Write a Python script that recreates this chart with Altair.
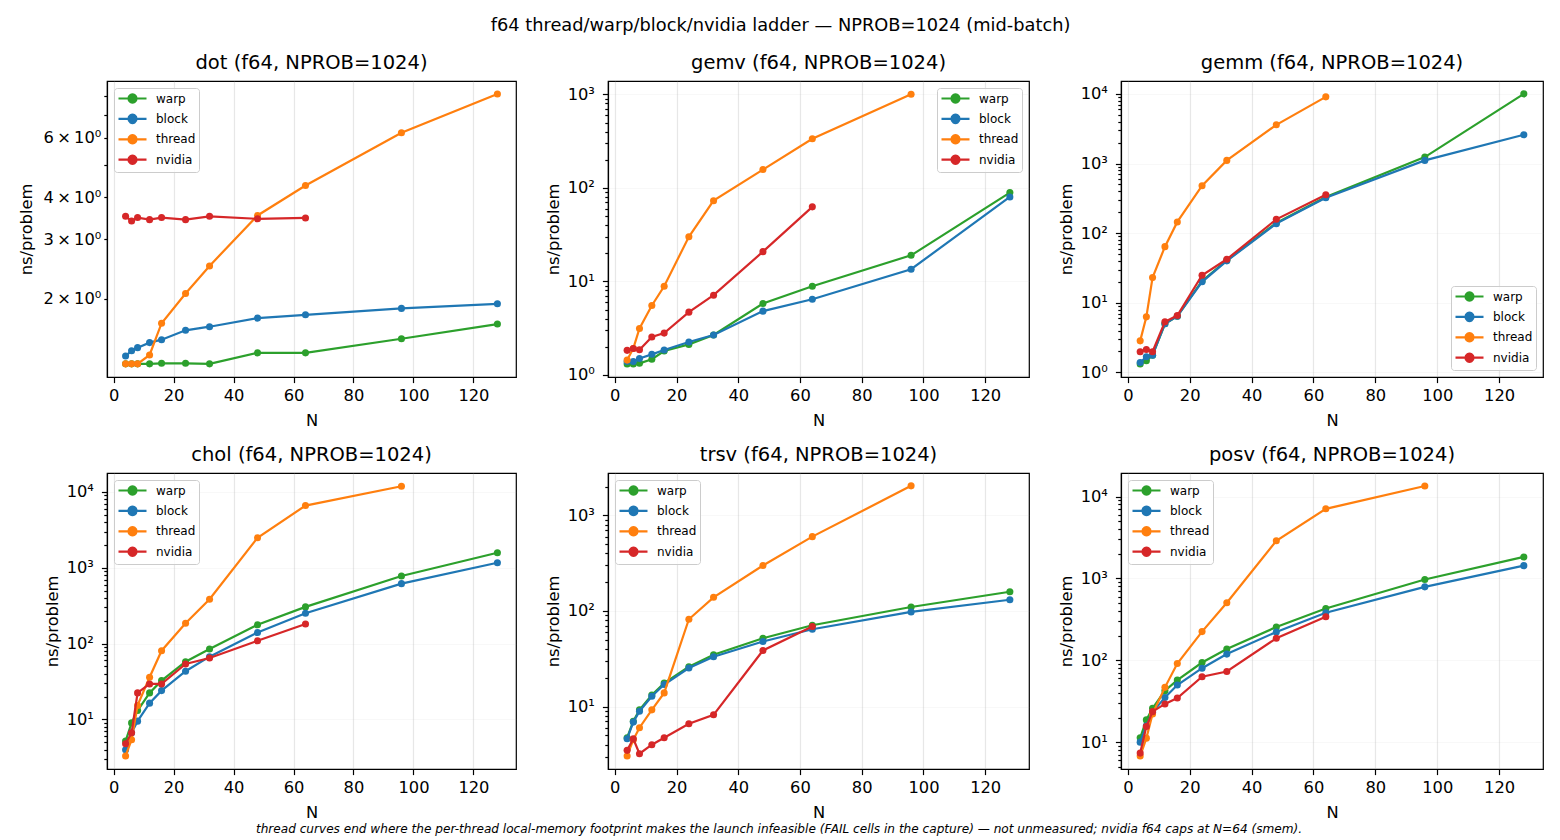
import altair as alt
import pandas as pd

# ---------------- data ----------------
N_ALL = [4, 6, 8, 12, 16, 24, 32, 48, 64, 96, 128]
SERIES = ["warp", "block", "thread", "nvidia"]
COLORS = ["#2ca02c", "#1f77b4", "#ff7f0e", "#d62728"]

dot_warp = [1.28, 1.28, 1.28, 1.28, 1.285, 1.285, 1.28, 1.38, 1.38, 1.52, 1.68]
dot_block = [1.35, 1.40, 1.43, 1.48, 1.51, 1.61, 1.65, 1.75, 1.79, 1.87, 1.93]
dot_thread = [1.28, 1.28, 1.28, 1.36, 1.69, 2.07, 2.50, 3.53, 4.33, 6.21, 8.10]
dot_nvidia = [3.51, 3.40, 3.48, 3.43, 3.48, 3.43, 3.51, 3.45, 3.47]

gemv_warp = [1.31, 1.31, 1.33, 1.47, 1.80, 2.12, 2.67, 5.80, 8.88, 19.0, 89.0]
gemv_block = [1.39, 1.39, 1.50, 1.66, 1.85, 2.25, 2.67, 4.81, 6.45, 13.5, 80.0]
gemv_thread = [1.44, 1.92, 3.14, 5.53, 8.88, 30.0, 73.0, 157.0, 335.0, 1005.0]
gemv_nvidia = [1.83, 1.92, 1.86, 2.54, 2.80, 4.69, 7.12, 20.8, 62.7]

gemm_warp = [1.32, 1.47, 1.77, 4.99, 6.42, 20.6, 40.8, 140.0, 330.0, 1236.0, 10000.0]
gemm_block = [1.39, 1.68, 1.77, 4.99, 6.40, 20.0, 40.0, 137.0, 323.0, 1108.0, 2583.0]
gemm_thread = [2.84, 6.28, 23.0, 64.0, 145.0, 480.0, 1108.0, 3594.0, 9060.0]
gemm_nvidia = [1.98, 2.14, 1.98, 5.33, 6.56, 24.9, 42.2, 158.0, 356.0]

chol_warp = [5.19, 9.0, 13.1, 22.4, 32.5, 57.8, 84.8, 177.0, 305.0, 780.0, 1580.0]
chol_block = [3.99, 6.68, 9.5, 16.4, 24.0, 43.2, 67.3, 140.0, 252.0, 618.0, 1167.0]
chol_thread = [3.30, 5.41, 15.3, 36.0, 80.7, 186.0, 385.0, 2490.0, 6620.0, 11900.0]
chol_nvidia = [4.79, 6.68, 22.4, 29.4, 29.4, 53.9, 64.6, 109.0, 181.0]

trsv_warp = [4.72, 7.03, 9.23, 13.2, 17.6, 26.1, 34.8, 51.9, 70.9, 110.0, 159.0]
trsv_block = [4.61, 6.87, 8.94, 12.8, 17.0, 25.3, 33.2, 48.0, 64.4, 97.7, 131.0]
trsv_thread = [3.04, 4.50, 6.0, 9.23, 13.9, 81.9, 139.0, 299.0, 600.0, 2040.0]
trsv_nvidia = [3.48, 4.60, 3.21, 3.99, 4.72, 6.60, 8.19, 38.6, 68.7]

posv_warp = [11.3, 18.7, 25.9, 42.5, 57.3, 94.0, 137.0, 255.0, 430.0, 969.0, 1830.0]
posv_block = [10.0, 15.9, 23.2, 35.2, 49.8, 80.1, 119.0, 222.0, 381.0, 789.0, 1433.0]
posv_thread = [6.76, 11.2, 22.1, 46.7, 91.4, 224.0, 504.0, 2884.0, 7080.0, 13460.0]
posv_nvidia = [7.35, 15.5, 23.6, 29.3, 34.6, 63.0, 73.0, 186.0, 340.0]

X_TICKS = [0, 20, 40, 60, 80, 100, 120]
DOT_Y_TICKS = [2, 3, 4, 5, 6, 7, 8]
DOT_Y_LABELED = [2, 3, 4, 6]
LOG_MULTS = [1, 2, 3, 4, 5, 6, 7, 8, 9]
LOG_DECADES = [1, 10, 100, 1000, 10000]
LOG_TICKS = [m * d for d in LOG_DECADES for m in LOG_MULTS]

MAIN_TITLE = "f64 thread/warp/block/nvidia ladder \u2014 NPROB=1024 (mid-batch)"
FOOTER = ("thread curves end where the per-thread local-memory footprint makes the launch "
          "infeasible (FAIL cells in the capture) \u2014 not unmeasured; nvidia f64 caps at N=64 (smem).")

PANELS = [
    ("dot", [dot_warp, dot_block, dot_thread, dot_nvidia], [1.17, 8.85], "top-left", "dot"),
    ("gemv", [gemv_warp, gemv_block, gemv_thread, gemv_nvidia], [0.95, 1390], "top-right", "log"),
    ("gemm", [gemm_warp, gemm_block, gemm_thread, gemm_nvidia], [0.86, 15300], "bottom-right", "log"),
    ("chol", [chol_warp, chol_block, chol_thread, chol_nvidia], [2.22, 17800], "top-left", "log"),
    ("trsv", [trsv_warp, trsv_block, trsv_thread, trsv_nvidia], [2.22, 2780], "top-left", "log"),
    ("posv", [posv_warp, posv_block, posv_thread, posv_nvidia], [4.7, 19400], "top-left", "log"),
]
WIDTHS = [409, 421, 422]
HEIGHT = 296
FOOTER_PANEL = 4          # footer text hangs below the bottom-middle panel
FOOTER_X = 171
FOOTER_Y = 356

FONT = "DejaVu Sans"
DECADE_TEST = "abs(log(datum.value)/LN10 - round(log(datum.value)/LN10)) < 0.001"
SUP = "['\u2070','\u00b9','\u00b2','\u00b3','\u2074','\u2075']"
LEGEND_PATH = ("M-1,0L3.667,0M2,0A0.667,0.667,0,1,1,0.667,0"
               "A0.667,0.667,0,1,1,2,0Z")


def make_panel(idx, name, series_vals, ydom, legend_orient, kind):
    rows = []
    for s, vals in zip(SERIES, series_vals):
        for n, v in zip(N_ALL, vals):
            rows.append({"N": n, "v": v, "series": s})
    df = pd.DataFrame(rows)

    x = alt.X("N:Q", title="N",
              scale=alt.Scale(domain=[-2.2, 134.2], nice=False, zero=False),
              axis=alt.Axis(values=X_TICKS, grid=True, labelFlush=False, labelPadding=5,
                            titlePadding=9))
    if kind == "dot":
        yaxis = alt.Axis(values=DOT_Y_TICKS, grid=False, tickSize=3.2, labelOverlap=False,
                         tickCount=100, labelPadding=3, titlePadding=9,
                         labelExpr="indexof(%s, datum.value) >= 0 ? datum.value + '\u2009\u00d7\u200910\u2070' : ''"
                         % str(DOT_Y_LABELED))
    else:
        yaxis = alt.Axis(values=LOG_TICKS, grid=True, labelOverlap=False, tickCount=100,
                         labelPadding=8, titlePadding=6,
                         tickSize={"condition": {"test": DECADE_TEST, "value": 5.6}, "value": 3.2},
                         gridOpacity={"condition": {"test": DECADE_TEST, "value": 0.3}, "value": 0},
                         labelExpr="%s ? '10' + %s[round(log(datum.value)/LN10)] : ''" % (DECADE_TEST, SUP))
    y = alt.Y("v:Q", title="ns/problem",
              scale=alt.Scale(type="log", domain=ydom, nice=False), axis=yaxis)
    color = alt.Color("series:N", scale=alt.Scale(domain=SERIES, range=COLORS),
                      legend=alt.Legend(title=None, orient=legend_orient, offset=7, padding=3,
                                        fillColor="rgba(255,255,255,0.8)", strokeColor="#cccccc",
                                        cornerRadius=3, labelFont=FONT, labelFontSize=12,
                                        labelColor="black", symbolType=LEGEND_PATH,
                                        symbolSize=144, symbolStrokeWidth=2.2, rowPadding=1.4,
                                        labelOffset=24))
    base = alt.Chart(df)
    layers = []
    for s in SERIES:
        sub = base.transform_filter(alt.datum.series == s)
        layers.append(sub.mark_line(strokeWidth=2.2).encode(x=x, y=y, color=color))
        layers.append(sub.mark_point(filled=True, size=50, opacity=1).encode(x=x, y=y, color=color))
    if idx == FOOTER_PANEL:
        layers.append(alt.Chart(pd.DataFrame({"t": [FOOTER]})).mark_text(
            font=FONT, fontSize=12.1, fontStyle="italic", align="center", baseline="middle",
            color="black").encode(text="t:N", x=alt.value(FOOTER_X), y=alt.value(FOOTER_Y)))
    return alt.layer(*layers).properties(
        width=WIDTHS[idx % 3], height=HEIGHT,
        title=alt.TitleParams(text=f"{name} (f64, NPROB=1024)", font=FONT, fontSize=19.5,
                              fontWeight="normal", color="black", offset=8, anchor="middle"),
    )


panels = [make_panel(i, *p) for i, p in enumerate(PANELS)]

chart = alt.concat(*panels, columns=3, spacing={"row": 96, "column": 92}, bounds="flush").resolve_scale(
    color="independent").resolve_legend(color="independent").properties(
    title=alt.TitleParams(text=MAIN_TITLE, font=FONT, fontSize=17.8, fontWeight="normal",
                          color="black", anchor="middle", offset=17),
    padding={"left": 9, "top": 9, "right": 5, "bottom": 0},
    background="white",
).configure_view(stroke="black", strokeWidth=1.2).configure_axis(
    labelFont=FONT, labelFontSize=16.3, labelColor="black", titleFont=FONT, titleFontSize=16.3,
    titleFontWeight="normal", titleColor="black", tickColor="black", tickWidth=1.2, tickSize=5.6,
    domainColor="black", domainWidth=1.2, gridColor="#b0b0b0", gridOpacity=0.3, gridWidth=1.2,
    labelPadding=3, titlePadding=5,
)

chart.save("out.html", embed_options={"renderer": "svg", "actions": False})
